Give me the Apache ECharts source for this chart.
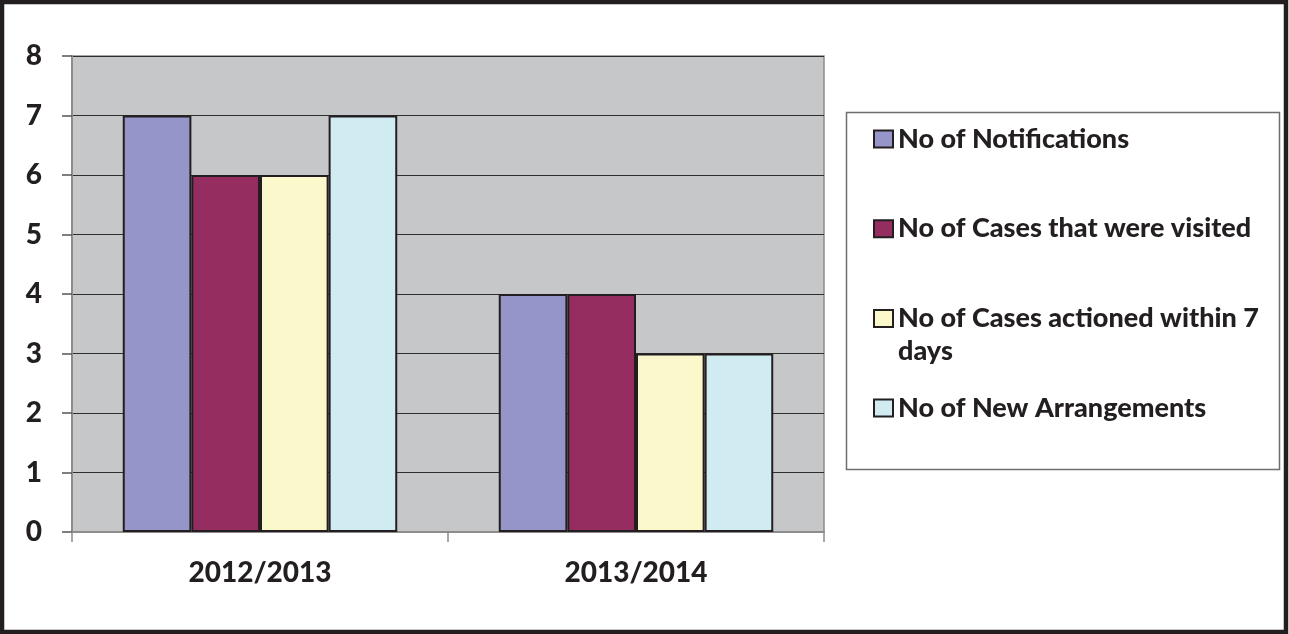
<!DOCTYPE html>
<html>
<head>
<meta charset="utf-8">
<script src="https://cdn.jsdelivr.net/npm/echarts@6/dist/echarts.min.js"></script>
<style>
  html, body { margin: 0; padding: 0; background: #ffffff; }
  #chart { width: 1289px; height: 634px; }
</style>
</head>
<body>
<div id="chart"></div>
<script>
// Reporting years
const years = ['2012/2013', '2013/2014'];

// Counts per year
const notifications = [7, 4];
const casesVisited = [6, 4];
const casesActioned = [6, 3];
const newArrangements = [7, 3];

// Series names shown in the legend (one entry wraps onto a second line)
const seriesNames = [
  'No of Notifications',
  'No of Cases that were visited',
  'No of Cases actioned within 7 days',
  'No of New Arrangements'
];
const legendLines = [
  ['No of Notifications'],
  ['No of Cases that were visited'],
  ['No of Cases actioned within 7', 'days'],
  ['No of New Arrangements']
];

// Value axis ticks
const yTicks = [0, 1, 2, 3, 4, 5, 6, 7, 8];

const FONT = 'Lato, "Open Sans", sans-serif';
const WEIGHT = 900;
const INK = '#231F20';
const colors = ['#9595C9', '#962D61', '#FBF8CC', '#D0ECF2'];
const values = [notifications, casesVisited, casesActioned, newArrangements];

// Legend entries sit on an even pitch; a wrapped entry keeps its first
// line level with the swatch, so blank space is added above it to keep
// the swatch centred on that first line.
const LEGEND_FIRST = 139;
const LEGEND_PITCH = 89.7;
const LINE_H = 33;

const legends = seriesNames.map((name, i) => {
  const lines = legendLines[i];
  const pad = lines.length - 1;
  const blockH = (lines.length + pad) * LINE_H;
  const text = Array(pad).fill('{s| }').concat(lines.map(l => '{t|' + l + '}')).join('\n');
  return {
    orient: 'vertical',
    left: 873,
    top: LEGEND_FIRST + i * LEGEND_PITCH - blockH / 2,
    padding: 0,
    itemWidth: 19,
    itemHeight: 17,
    icon: 'rect',
    itemStyle: { borderColor: INK, borderWidth: 2 },
    formatter: () => text,
    textStyle: {
      fontFamily: FONT,
      fontWeight: WEIGHT,
      fontSize: 27,
      color: INK,
      lineHeight: LINE_H,
      rich: {
        t: { fontFamily: FONT, fontWeight: WEIGHT, fontSize: 27, color: INK, lineHeight: LINE_H },
        s: { fontSize: 27, lineHeight: LINE_H }
      }
    },
    data: [name]
  };
});

const chart = echarts.init(document.getElementById('chart'), null, { renderer: 'canvas' });

chart.setOption({
  animation: false,
  backgroundColor: '#ffffff',
  grid: {
    left: 72, top: 56, right: 465, bottom: 102,
    show: true,
    backgroundColor: '#C6C7C9',
    borderColor: '#8C8C8C',
    borderWidth: 1.5
  },
  legend: legends,
  xAxis: {
    type: 'category',
    data: years,
    axisLine: { lineStyle: { color: '#8C8C8C', width: 2 } },
    axisTick: { show: true, length: 10, lineStyle: { color: '#8C8C8C', width: 1.5 } },
    axisLabel: {
      fontFamily: FONT, fontWeight: WEIGHT, fontSize: 28, color: INK, margin: 27
    }
  },
  yAxis: {
    type: 'value',
    min: yTicks[0],
    max: yTicks[yTicks.length - 1],
    interval: 1,
    axisLine: { show: true, lineStyle: { color: '#8C8C8C', width: 2 } },
    axisTick: { show: true, length: 10, lineStyle: { color: '#555555', width: 1.5 } },
    axisLabel: {
      fontFamily: FONT, fontWeight: WEIGHT, fontSize: 28, color: INK, margin: 30
    },
    splitLine: { show: true, lineStyle: { color: '#2E2E2E', width: 1.2 } }
  },
  series: seriesNames.map((name, i) => ({
    name: name,
    type: 'bar',
    data: values[i],
    barGap: '0%',
    barCategoryGap: '27%',
    itemStyle: { color: colors[i], borderColor: INK, borderWidth: 2 }
  })),
  graphic: [
    {
      type: 'rect',
      shape: { x: 846.5, y: 112.5, width: 433, height: 357 },
      style: { fill: 'none', stroke: '#6E6E6E', lineWidth: 1.5 },
      z: 10
    },
    {
      type: 'rect',
      shape: { x: 2, y: 2, width: 1284, height: 630 },
      style: { fill: 'none', stroke: '#231F20', lineWidth: 4.5 },
      z: 10
    }
  ]
});
</script>
</body>
</html>
